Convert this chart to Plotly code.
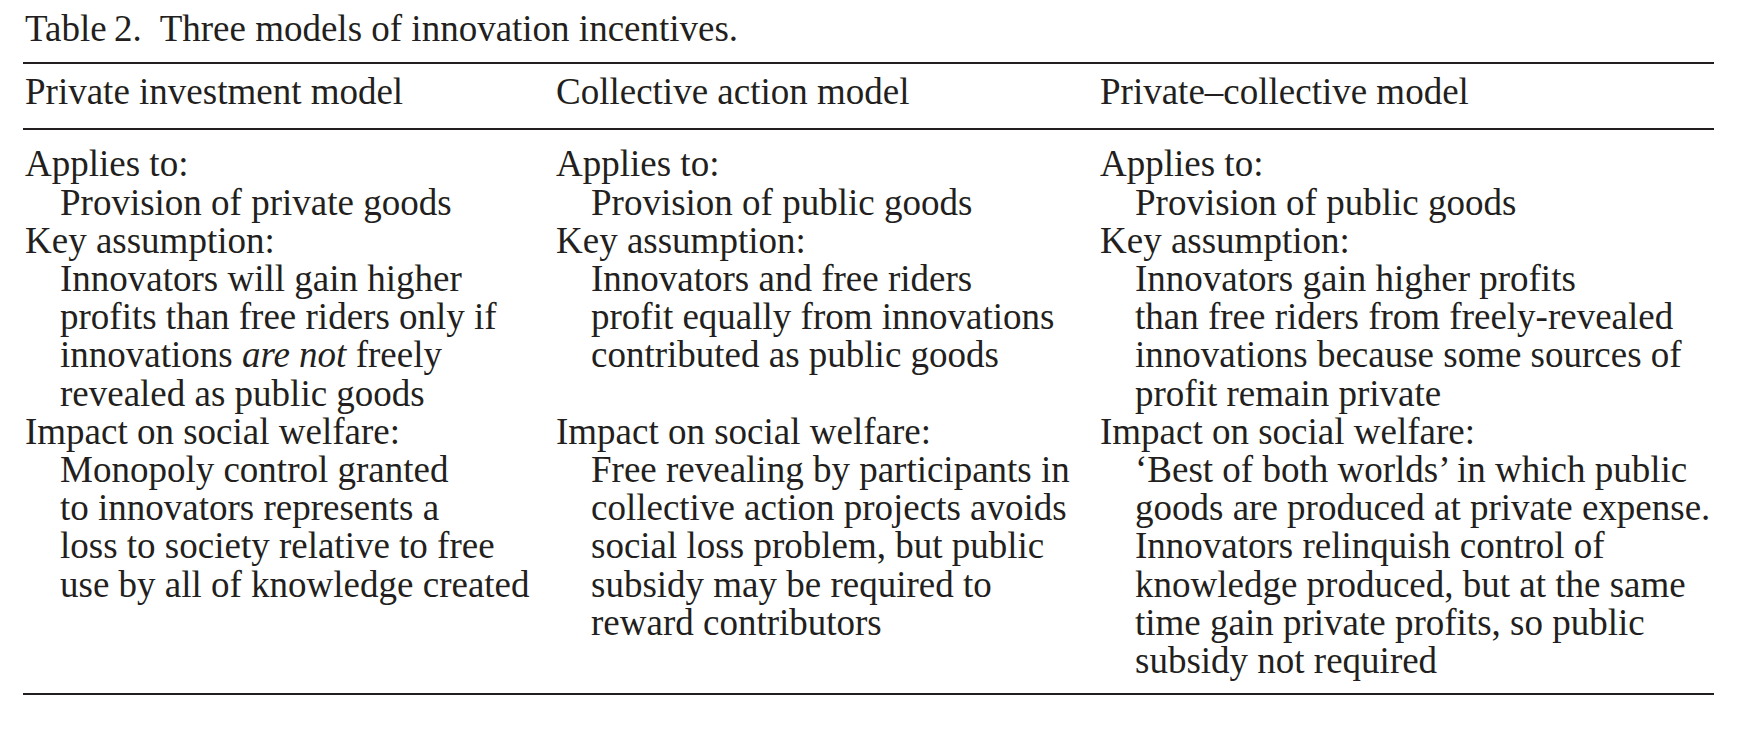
import plotly.graph_objects as go

# ---------------- data ----------------
title_text = "Table\u20092.  Three models of innovation incentives."
column_headers = ["Private investment model", "Collective action model", "Private\u2013collective model"]
section_labels = ["Applies to:", "Key assumption:", "Impact on social welfare:"]

applies_to = [
    ["Provision of private goods"],
    ["Provision of public goods"],
    ["Provision of public goods"],
]
key_assumption = [
    ["Innovators will gain higher",
     "profits than free riders only if",
     "innovations <i>are not</i> freely",
     "revealed as public goods"],
    ["Innovators and free riders",
     "profit equally from innovations",
     "contributed as public goods"],
    ["Innovators gain higher profits",
     "than free riders from freely-revealed",
     "innovations because some sources of",
     "profit remain private"],
]
social_welfare = [
    ["Monopoly control granted",
     "to innovators represents a",
     "loss to society relative to free",
     "use by all of knowledge created"],
    ["Free revealing by participants in",
     "collective action projects avoids",
     "social loss problem, but public",
     "subsidy may be required to",
     "reward contributors"],
    ["\u2018Best of both worlds\u2019 in which public",
     "goods are produced at private expense.",
     "Innovators relinquish control of",
     "knowledge produced, but at the same",
     "time gain private profits, so public",
     "subsidy not required"],
]
sections = [applies_to, key_assumption, social_welfare]

# ---------------- layout parameters ----------------
PAGE_MARGIN = 8            # default browser body margin around the plot div
W, H = 1738 - 2 * PAGE_MARGIN, 732 - 2 * PAGE_MARGIN
FONT = "Liberation Serif"
FS = 37
INK = "#231f20"
col_x = [23, 554, 1098]
indent = 35
rule_x0, rule_x1 = 23, 1714
title_base = 40
header_base = 103
body_base0 = 175
line_h = 38.2
rules_y = [63, 129, 694]
base_off = 0.30 * FS  # baseline -> middle of text box


def ann(x, base, text):
    return dict(x=x - PAGE_MARGIN, y=base - base_off - PAGE_MARGIN, xref="x", yref="y", text=text,
                showarrow=False, xanchor="left", yanchor="middle", align="left",
                font=dict(family=FONT, size=FS, color=INK))


annotations = [ann(col_x[0], title_base, title_text)]
for c, h in enumerate(column_headers):
    annotations.append(ann(col_x[c], header_base, h))

row = 0
for s, label in enumerate(section_labels):
    body = sections[s]
    for c in range(3):
        annotations.append(ann(col_x[c], body_base0 + row * line_h, label))
        for k, line in enumerate(body[c]):
            annotations.append(ann(col_x[c] + indent, body_base0 + (row + 1 + k) * line_h, line))
    row += 1 + max(len(b) for b in body)

shapes = [dict(type="line", xref="x", yref="y",
               x0=rule_x0 - PAGE_MARGIN, x1=rule_x1 - PAGE_MARGIN,
               y0=y - PAGE_MARGIN, y1=y - PAGE_MARGIN,
               line=dict(color=INK, width=1.8)) for y in rules_y]

fig = go.Figure()
fig.update_layout(
    width=W, height=H,
    margin=dict(l=0, r=0, t=0, b=0),
    paper_bgcolor="white", plot_bgcolor="white",
    xaxis=dict(range=[0, W], visible=False, fixedrange=True),
    yaxis=dict(range=[H, 0], visible=False, fixedrange=True),
    annotations=annotations,
    shapes=shapes,
    showlegend=False,
)
fig.write_html("out.html")
